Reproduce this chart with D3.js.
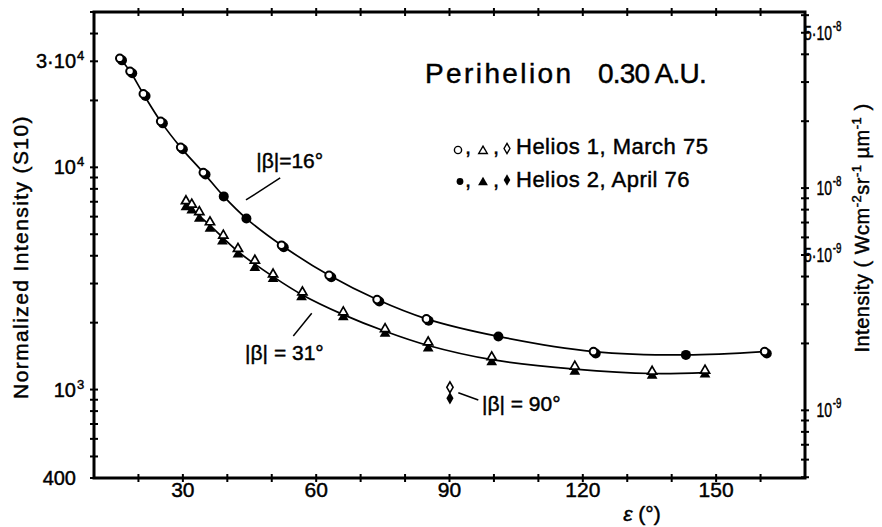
<!DOCTYPE html>
<html>
<head>
<meta charset="utf-8">
<script src="https://cdn.jsdelivr.net/npm/d3@7"></script>
<style>
  html, body { margin: 0; padding: 0; background: #fff; }
  svg { display: block; font-family: "Liberation Sans", Arial, sans-serif; }
  svg text { stroke: #000; stroke-width: 0.45px; }
</style>
</head>
<body>
<svg id="chart" width="882" height="527"></svg>
<script>
// Zodiacal light at perihelion (0.30 AU): brightness vs elongation ε (deg), in S10 units.

// |β| = 16°, circles
const h1CircleEps = [15.8, 18.1, 21.1, 25.0, 29.5, 34.6, 52.2, 62.9, 73.7, 84.8, 122.4, 160.9];
const h1CircleVal = [30950, 27050, 21400, 16100, 12300, 9470, 4460, 3265, 2540, 2080, 1483, 1483];
const h2CircleEps = [16.3, 18.6, 21.6, 25.5, 30.0, 35.1, 39.2, 44.3, 52.7, 63.4, 74.2, 85.3, 101.0, 122.9, 143.2, 161.4];
const h2CircleVal = [30300, 26500, 20950, 15770, 12050, 9280, 7400, 5880, 4370, 3200, 2490, 2040, 1734, 1453, 1432, 1453];

// |β| = 31°, triangles
const h1TriEps = [30.7, 32.0, 33.7, 36.1, 39.1, 42.4, 46.2, 50.3, 56.9, 66.1, 75.5, 85.2, 99.5, 118.2, 135.6, 147.5];
const h1TriVal = [7050, 6810, 6300, 5670, 4940, 4305, 3810, 3300, 2740, 2230, 1875, 1633, 1400, 1271, 1205, 1219];
const h2TriEps = [30.7, 32.0, 33.7, 36.1, 38.9, 42.4, 46.2, 50.3, 56.7, 66.1, 75.5, 85.2, 99.5, 118.2, 135.6, 147.5];
const h2TriVal = [6620, 6395, 5875, 5295, 4645, 4055, 3530, 3145, 2605, 2118, 1783, 1531, 1328, 1205, 1156, 1170];

// |β| = 90°, diamonds
const h1DiaEps = [90.1];
const h1DiaVal = [1024];
const h2DiaEps = [90.1];
const h2DiaVal = [914];

// Smooth fit curves
const fit16Eps = [15.8, 18.1, 21.1, 25.0, 29.5, 34.6, 39.2, 44.3, 52.2, 62.9, 73.7, 84.8, 101.0, 122.4, 143.2, 160.9];
const fit16Val = [30950, 27050, 21400, 16100, 12300, 9470, 7400, 5880, 4460, 3265, 2540, 2080, 1734, 1483, 1432, 1483];
const fit31Eps = [30.7, 36.1, 42.4, 50.3, 56.8, 66.1, 75.5, 85.2, 99.5, 118.2, 135.6, 147.5];
const fit31Val = [6835, 5480, 4180, 3222, 2673, 2174, 1829, 1578, 1363, 1237, 1181, 1193];

// Axis tick labels
const xTickLabels = [30, 60, 90, 120, 150];
const leftTickLabels = [
  { value: 30000, base: "3·10", sup: "4" },
  { value: 10000, base: "10", sup: "4" },
  { value: 1000, base: "10", sup: "3" },
  { value: 400, base: "400", sup: "" }
];
const rightTickLabels = [
  { value: 5e-8, base: "5·10", sup: "-8" },
  { value: 1e-8, base: "10", sup: "-8" },
  { value: 5e-9, base: "5·10", sup: "-9" },
  { value: 1e-9, base: "10", sup: "-9" }
];

// S10 -> W cm^-2 sr^-1 µm^-1
const S10_TO_SI = 1.24e-12;

// Curve labels, anchored in data units [ε, S10]
const curveNotes = [
  { text: "|β|=16°", at: [46.5, 9940], from: [44.2, 7130], to: [51.9, 8960] },
  { text: "|β| = 31°", at: [44.0, 1359], from: [59.0, 2205], to: [54.85, 1743] },
  { text: "|β| = 90°", at: [97.3, 801], from: [91.98, 968], to: [96.48, 898] }
];

const svg = d3.select("#chart");
svg.append("rect").attr("width", 882).attr("height", 527).attr("fill", "#fff").attr("stroke", "none");

const M = { left: 94, right: 805, top: 12, bottom: 478 };
const x = d3.scaleLinear().domain([10, 170]).range([M.left, M.right]);
const y = d3.scaleLog().domain([400, 50000]).range([M.bottom, M.top]);
const yR = d3.scaleLog().domain(y.domain().map(v => v * S10_TO_SI)).range([M.bottom, M.top]);

// Fit curves
const line = d3.line().x(d => x(d[0])).y(d => y(d[1])).curve(d3.curveCatmullRom.alpha(0.5));
[[fit16Eps, fit16Val], [fit31Eps, fit31Val]].forEach(([e, v]) => {
  svg.append("path").datum(d3.zip(e, v))
    .attr("d", line).attr("fill", "none").attr("stroke", "#000").attr("stroke-width", 1.7);
});

// Helios 2 (filled) first, Helios 1 (open) on top
svg.append("g").selectAll("circle").data(d3.zip(h2CircleEps, h2CircleVal)).join("circle")
  .attr("cx", d => x(d[0])).attr("cy", d => y(d[1])).attr("r", 5).attr("fill", "#000");
svg.append("g").selectAll("circle").data(d3.zip(h1CircleEps, h1CircleVal)).join("circle")
  .attr("cx", d => x(d[0])).attr("cy", d => y(d[1])).attr("r", 3.8)
  .attr("fill", "#fff").attr("stroke", "#000").attr("stroke-width", 2);

const triFilled = d3.symbol(d3.symbolTriangle, 50)();
const triOpen = d3.symbol(d3.symbolTriangle, 36)();
svg.append("g").selectAll("path").data(d3.zip(h2TriEps, h2TriVal)).join("path")
  .attr("d", triFilled).attr("transform", d => `translate(${x(d[0])},${y(d[1])})`).attr("fill", "#000");
svg.append("g").selectAll("path").data(d3.zip(h1TriEps, h1TriVal)).join("path")
  .attr("d", triOpen).attr("transform", d => `translate(${x(d[0])},${y(d[1])})`)
  .attr("fill", "#fff").attr("stroke", "#000").attr("stroke-width", 1.7);

const diaFilled = d3.symbol(d3.symbolDiamond, 44)();
const diaOpen = d3.symbol(d3.symbolDiamond, 34)();
svg.append("g").selectAll("path").data(d3.zip(h2DiaEps, h2DiaVal)).join("path")
  .attr("d", diaFilled).attr("transform", d => `translate(${x(d[0])},${y(d[1])})`).attr("fill", "#000");
svg.append("g").selectAll("path").data(d3.zip(h1DiaEps, h1DiaVal)).join("path")
  .attr("d", diaOpen).attr("transform", d => `translate(${x(d[0])},${y(d[1])})`)
  .attr("fill", "#fff").attr("stroke", "#000").attr("stroke-width", 1.6);

// Frame
svg.append("rect")
  .attr("x", M.left).attr("y", M.top)
  .attr("width", M.right - M.left).attr("height", M.bottom - M.top)
  .attr("fill", "none").attr("stroke", "#000").attr("stroke-width", 3);

// Ticks crossing the frame
const ticks = svg.append("g").attr("stroke", "#000").attr("stroke-width", 2);
const xt = x.ticks(16).filter(v => v > 10 && v < 170);
xt.forEach(v => {
  ticks.append("line").attr("x1", x(v)).attr("x2", x(v)).attr("y1", M.bottom - 4).attr("y2", M.bottom + 4);
  ticks.append("line").attr("x1", x(v)).attr("x2", x(v)).attr("y1", M.top - 4).attr("y2", M.top + 4);
});
y.ticks().forEach(v => {
  ticks.append("line").attr("x1", M.left - 4).attr("x2", M.left + 4).attr("y1", y(v)).attr("y2", y(v));
});
yR.ticks().forEach(v => {
  ticks.append("line").attr("x1", M.right - 4).attr("x2", M.right + 4).attr("y1", yR(v)).attr("y2", yR(v));
});

// Bottom labels
svg.append("g").selectAll("text").data(xTickLabels).join("text")
  .attr("x", d => x(d)).attr("y", 497).attr("text-anchor", "middle")
  .attr("font-size", 21).text(d => d);

// Left labels
leftTickLabels.forEach(t => {
  svg.append("text").attr("x", 76).attr("y", y(t.value) + 7)
    .attr("text-anchor", "end").attr("font-size", 20).text(t.base);
  if (t.sup) svg.append("text").attr("x", 77).attr("y", y(t.value) - 1)
    .attr("font-size", 13).text(t.sup);
});

// Right labels, set in a narrow face
rightTickLabels.forEach(t => {
  const g = svg.append("g").attr("transform", `translate(832,${yR(t.value)}) scale(0.7,1)`);
  g.append("text").attr("x", 0).attr("y", 7)
    .attr("text-anchor", "end").attr("font-size", 20).attr("stroke-width", 0.7).text(t.base);
  g.append("text").attr("x", 1).attr("y", -2)
    .attr("font-size", 14).attr("stroke-width", 0.6).text(t.sup);
});

// Axis titles
svg.append("text").attr("transform", "translate(28,257) rotate(-90)")
  .attr("text-anchor", "middle").attr("font-size", 21).attr("letter-spacing", 1.4)
  .text("Normalized Intensity (S10)");

const rt = svg.append("text").attr("transform", "translate(869,228) rotate(-90)")
  .attr("text-anchor", "middle").attr("font-size", 20).attr("letter-spacing", 0.5);
rt.append("tspan").text("Intensity ( Wcm");
rt.append("tspan").attr("dy", -8).attr("font-size", 13).text("-2");
rt.append("tspan").attr("dy", 8).text("sr");
rt.append("tspan").attr("dy", -8).attr("font-size", 13).text("-1");
rt.append("tspan").attr("dy", 8).text(" µm");
rt.append("tspan").attr("dy", -8).attr("font-size", 13).text("-1");
rt.append("tspan").attr("dy", 8).text(" )");

const xl = svg.append("text").attr("x", 642).attr("y", 521).attr("text-anchor", "middle").attr("font-size", 21);
xl.append("tspan").attr("font-style", "italic").text("ε");
xl.append("tspan").text(" (°)");

// Title
const title = svg.append("text").attr("x", 425).attr("y", 83).attr("font-size", 28);
title.append("tspan").attr("letter-spacing", 2.4).text("Perihelion");
title.append("tspan").attr("x", 598).attr("letter-spacing", -0.8).text("0.30 A.U.");

// Legend
const lg = svg.append("g");
function legendRow(cy, base, filled, label) {
  const fill = filled ? "#000" : "#fff";
  const sw = filled ? 0 : 1.4;
  lg.append("circle").attr("cx", filled ? 460 : 458).attr("cy", cy).attr("r", filled ? 3.4 : 3.6)
    .attr("fill", fill).attr("stroke", "#000").attr("stroke-width", sw);
  lg.append("text").attr("x", 465).attr("y", base).attr("font-size", 22).text(",");
  lg.append("path").attr("d", d3.symbol(d3.symbolTriangle, filled ? 42 : 32)())
    .attr("transform", `translate(483,${cy + 1})`)
    .attr("fill", fill).attr("stroke", "#000").attr("stroke-width", sw);
  lg.append("text").attr("x", 493).attr("y", base).attr("font-size", 22).text(",");
  lg.append("path").attr("d", d3.symbol(d3.symbolDiamond, filled ? 38 : 30)())
    .attr("transform", `translate(507,${cy - 1.5})`)
    .attr("fill", fill).attr("stroke", "#000").attr("stroke-width", sw);
  lg.append("text").attr("x", 516).attr("y", base).attr("font-size", 22)
    .attr("letter-spacing", 0.5).text(label);
}
legendRow(150, 154, false, "Helios 1, March 75");
legendRow(181.5, 187, true, "Helios 2, April 76");

// Curve labels with leader lines
curveNotes.forEach(n => {
  svg.append("line")
    .attr("x1", x(n.from[0])).attr("y1", y(n.from[1]))
    .attr("x2", x(n.to[0])).attr("y2", y(n.to[1]))
    .attr("stroke", "#000").attr("stroke-width", 1.5);
  svg.append("text").attr("x", x(n.at[0])).attr("y", y(n.at[1]))
    .attr("font-size", 21).text(n.text);
});
</script>
</body>
</html>
